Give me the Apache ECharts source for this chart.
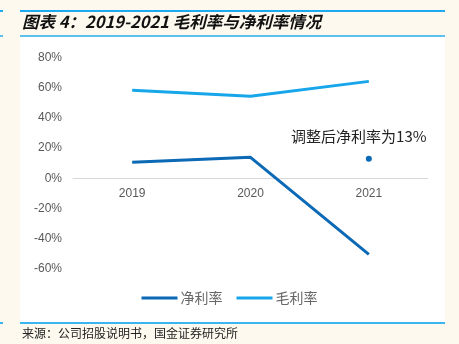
<!DOCTYPE html>
<html>
<head>
<meta charset="utf-8">
<script src="https://cdn.jsdelivr.net/npm/echarts@6/dist/echarts.min.js"></script>
<style>
html,body{margin:0;padding:0;background:#fdf9ef;}
#chart{width:459px;height:344px;}
</style>
</head>
<body>
<div id="chart"></div>
<script>
// Years on the category axis
const years = ['2019', '2020', '2021'];
// Gross margin (%)
const grossMargin = [58.3, 54.3, 64.2];
// Net margin (%)
const netMargin = [10.6, 13.9, -50.3];
// Adjusted 2021 net margin (%)
const adjustedNet = [null, null, 13];
// Y-axis range and step
const yMin = -60, yMax = 80, yStep = 20;

const chart = echarts.init(document.getElementById('chart'));
const dark = '#0b69b5';
const light = '#18a6ea';
const frame = '#3bb5ef';

chart.setOption({
  backgroundColor: '#fdf9ef',
  animation: false,
  graphic: [
    { type: 'rect', shape: { x: 20, y: 36, width: 425, height: 287 }, style: { fill: '#ffffff' }, z: -10 },
    { type: 'rect', shape: { x: 20, y: 10, width: 425, height: 2 }, style: { fill: '#1eaaf0' } },
    { type: 'rect', shape: { x: 20, y: 35, width: 425, height: 2 }, style: { fill: '#5fc0ee' } },
    { type: 'rect', shape: { x: 20, y: 322, width: 425, height: 2 }, style: { fill: frame } },
    { type: 'rect', shape: { x: 0, y: 10, width: 3, height: 2 }, style: { fill: '#1eaaf0' } },
    { type: 'rect', shape: { x: 0, y: 35, width: 3, height: 2 }, style: { fill: '#5fc0ee' } },
    { type: 'rect', shape: { x: 0, y: 322, width: 3, height: 2 }, style: { fill: frame } },
    { type: 'text', left: 22, top: 13, style: { text: '图表 4：2019-2021 毛利率与净利率情况', font: 'italic bold 16.5px "Noto Sans CJK SC", sans-serif', fill: '#111' } },
    { type: 'text', left: 22, top: 327, style: { text: '来源：公司招股说明书，国金证券研究所', font: '12px "Noto Sans CJK SC", sans-serif', fill: '#222' } }
  ],
  grid: { left: 73, right: 31, top: 57.5, bottom: 75 },
  legend: {
    bottom: 34,
    left: 'center',
    itemWidth: 36,
    itemHeight: 3,
    itemGap: 14,
    icon: 'rect',
    textStyle: { fontSize: 14, color: '#666', fontFamily: '"Noto Sans CJK SC", sans-serif', padding: [0, 0, 0, -2] },
    data: ['净利率', '毛利率']
  },
  xAxis: {
    type: 'category',
    data: years,
    axisLine: { onZero: true, lineStyle: { color: '#d9d9d9' } },
    axisTick: { inside: true, length: 5, lineStyle: { color: '#d9d9d9' } },
    axisLabel: { color: '#595959', fontSize: 12, fontFamily: 'Liberation Sans, Arial, sans-serif', margin: -81 }
  },
  yAxis: {
    type: 'value',
    min: yMin,
    max: yMax,
    interval: yStep,
    axisLine: { show: false },
    axisTick: { show: false },
    splitLine: { show: false },
    axisLabel: { formatter: '{value}%', color: '#595959', fontSize: 12, fontFamily: 'Liberation Sans, Arial, sans-serif', margin: 11 }
  },
  series: [
    {
      name: '净利率', type: 'line', data: netMargin,
      symbol: 'none', lineStyle: { width: 3, color: dark }, itemStyle: { color: dark }
    },
    {
      name: '毛利率', type: 'line', data: grossMargin,
      symbol: 'none', lineStyle: { width: 3, color: light }, itemStyle: { color: light }
    },
    {
      name: '调整后', type: 'scatter', data: adjustedNet,
      symbolSize: 6, itemStyle: { color: dark, opacity: 1 },
      label: {
        show: true, position: 'top', distance: 12, offset: [-10, 0],
        formatter: p => '调整后净利率为' + p.value + '%',
        color: '#222', fontSize: 15, fontFamily: '"Noto Sans CJK SC", serif'
      }
    }
  ]
});
</script>
</body>
</html>
